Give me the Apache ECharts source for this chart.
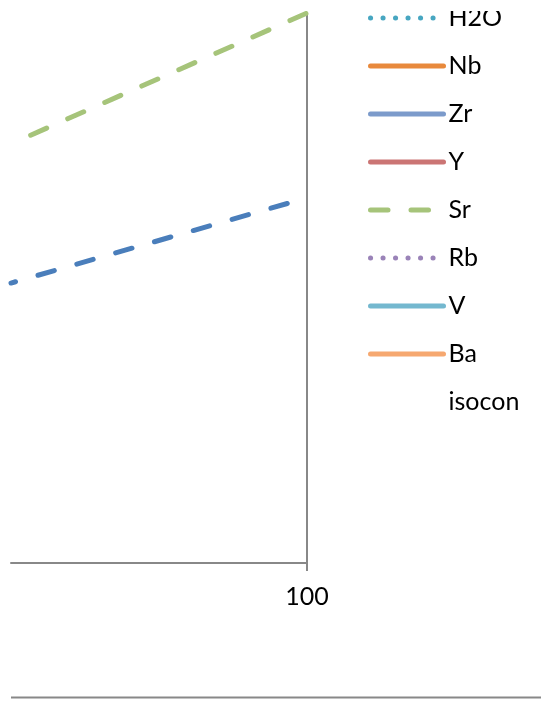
<!DOCTYPE html>
<html>
<head>
<meta charset="utf-8">
<script src="https://cdn.jsdelivr.net/npm/echarts@6/dist/echarts.min.js"></script>
<style>
  html, body { margin: 0; padding: 0; background: #fff; }
  #chart { width: 541px; height: 705px; }
</style>
</head>
<body>
<div id="chart"></div>
<script>
// ---- data ----
const xValues = [0, 100];
const blueDashedName = 'Al2O3';
const blueDashedValues = [50.9, 66.4];
const srValues = [76.2, 100];
const legendNames = ['H2O', 'Nb', 'Zr', 'Y', 'Sr', 'Rb', 'V', 'Ba', 'isocon'];
const xTickLabels = [100];

const chart = echarts.init(document.getElementById('chart'));
const FONT = 'Lato';

function pts(vals) { return xValues.map((x, i) => [x, vals[i]]); }

const styles = {
  'H2O':   { color: '#47A6C1', type: [0.1, 12.4] },
  'Nb':    { color: '#E8893C', type: 'solid' },
  'Zr':    { color: '#7C9BCB', type: 'solid' },
  'Y':     { color: '#CB7574', type: 'solid' },
  'Sr':    { color: '#A6C47A', type: [17.5, 23], dashOffset: 19 },
  'Rb':    { color: '#9A83B8', type: [0.1, 12.4] },
  'V':     { color: '#74B8CF', type: 'solid' },
  'Ba':    { color: '#F6A870', type: 'solid' },
  'isocon':{ color: 'rgba(0,0,0,0)', type: 'solid' }
};

const dataByName = { 'Sr': pts(srValues) };

const series = [{
  name: blueDashedName,
  type: 'line',
  data: pts(blueDashedValues),
  symbol: 'none',
  color: '#4A7EBB',
  lineStyle: { color: '#4A7EBB', width: 5, type: [17, 23.4], cap: 'round', dashOffset: 12.3 },
  silent: true,
  z: 3
}];
const legendData = [];
legendNames.forEach(n => {
  const s = styles[n];
  series.push({
    name: n,
    type: 'line',
    data: dataByName[n] || [],
    symbol: 'none',
    showSymbol: false,
    color: s.color,
    lineStyle: { color: s.color, width: n === 'isocon' ? 0 : 5, type: s.type, cap: 'round', dashOffset: s.dashOffset || 0 },
    silent: true,
    z: 3
  });
  legendData.push({
    name: n,
    itemStyle: { opacity: 0 },
    lineStyle: { color: s.color, width: n === 'isocon' ? 0 : 5, type: s.type, cap: 'round', dashOffset: 0, opacity: n === 'isocon' ? 0 : 1 }
  });
});

chart.setOption({
  animation: false,
  backgroundColor: '#fff',
  grid: { left: 11, right: 234, top: 13, bottom: 142, containLabel: false },
  xAxis: {
    type: 'value', min: 0, max: 100,
    axisLine: { show: true, onZero: false, lineStyle: { color: '#888888', width: 2 } },
    axisTick: { show: true, customValues: xTickLabels, length: 8, lineStyle: { color: '#888888', width: 2 } },
    axisLabel: { show: true, customValues: xTickLabels, margin: 21, fontFamily: FONT, fontSize: 25, color: '#000' },
    splitLine: { show: false }
  },
  yAxis: {
    type: 'value', min: 0, max: 100, position: 'right',
    axisLine: { show: true, onZero: false, lineStyle: { color: '#888888', width: 2 } },
    axisTick: { show: false },
    axisLabel: { show: false },
    splitLine: { show: false }
  },
  legend: {
    data: legendData,
    orient: 'vertical',
    left: 368, top: 4,
    padding: 0,
    itemWidth: 73, itemHeight: 14,
    itemGap: 20,
    itemStyle: { opacity: 0 },
    lineStyle: { width: 5, cap: 'round', dashOffset: 0 },
    textStyle: { fontFamily: FONT, fontSize: 25, color: '#000', lineHeight: 28 },
    selectedMode: false
  },
  graphic: [
    { type: 'rect', shape: { x: 0, y: 0, width: 541, height: 11 }, style: { fill: '#fff' }, z: 100 },
    { type: 'line', shape: { x1: 11, y1: 697.5, x2: 541, y2: 697.5 }, style: { stroke: '#888888', lineWidth: 2 }, z: 100 }
  ],
  series: series
});
</script>
</body>
</html>
